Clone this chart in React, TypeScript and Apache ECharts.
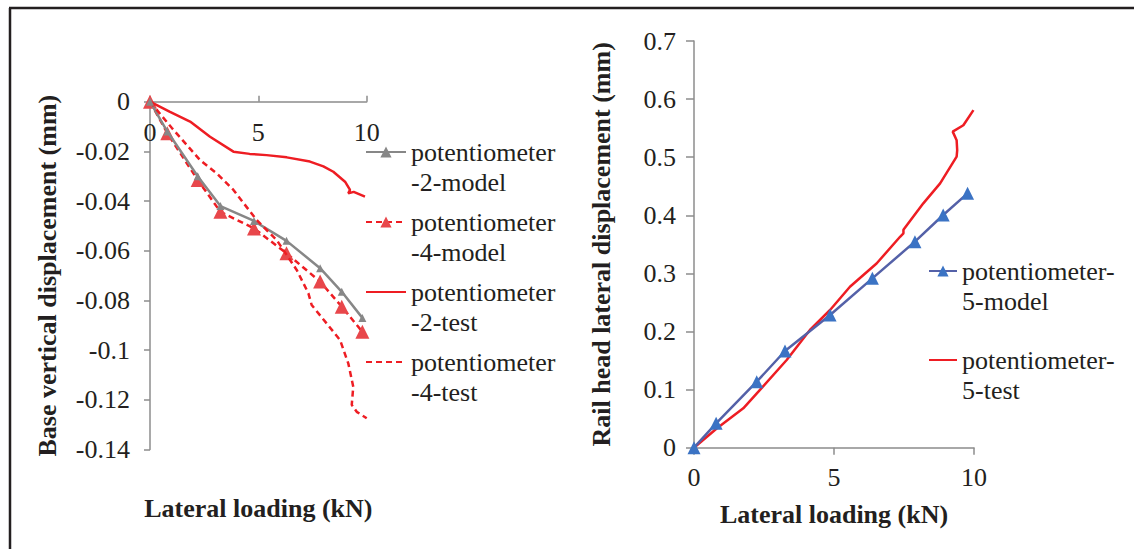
import React, { useEffect, useRef } from 'react';
import * as echarts from 'echarts';

// ---------- data ----------
// left chart: base vertical displacement (mm) vs lateral loading (kN)
const modelLoadLeft = [0, 0.8, 2.2, 3.25, 4.8, 6.3, 7.85, 8.85, 9.8];
const pot2Model = [0, -0.012, -0.03, -0.042, -0.048, -0.056, -0.067, -0.0765, -0.087];
const pot4Model = [0, -0.0127, -0.0315, -0.0443, -0.051, -0.061, -0.0724, -0.0825, -0.0926];

const pot2TestLoad = [0, 0.9, 1.85, 2.77, 3.85, 4.6, 5.38, 6.31, 7.38, 8.0, 8.46, 9.0, 9.23, 9.15, 9.4, 9.92];
const pot2TestDisp = [0, -0.004, -0.008, -0.0141, -0.0201, -0.021, -0.0215, -0.0224, -0.0241, -0.026, -0.0282, -0.0322, -0.0355, -0.0369, -0.0363, -0.0382];

const pot4TestLoad = [0, 1.0, 2.31, 3.1, 3.85, 4.92, 5.85, 6.77, 7.31, 7.46, 8.15, 8.77, 9.15, 9.38, 9.31, 9.54, 10.0];
const pot4TestDisp = [0, -0.0105, -0.0235, -0.029, -0.0355, -0.0476, -0.0557, -0.0677, -0.0771, -0.0818, -0.0892, -0.0959, -0.1053, -0.1147, -0.122, -0.1248, -0.1274];

// right chart: rail head lateral displacement (mm) vs lateral loading (kN)
const modelLoadRight = [0, 0.79, 2.24, 3.25, 4.86, 6.37, 7.89, 8.9, 9.77];
const pot5Model = [0, 0.042, 0.1136, 0.1664, 0.2284, 0.2915, 0.3546, 0.4005, 0.4378];

const pot5TestLoad = [0, 0.81, 1.76, 2.3, 3.31, 4.14, 4.86, 5.57, 6.52, 7.36, 7.48, 7.48, 8.19, 8.79, 9.38, 9.4, 9.38, 9.24, 9.62, 9.98];
const pot5TestDisp = [0, 0.033, 0.0678, 0.0964, 0.151, 0.2026, 0.237, 0.277, 0.317, 0.363, 0.369, 0.375, 0.4206, 0.455, 0.501, 0.512, 0.529, 0.544, 0.555, 0.581];

const seriesNamesLeft = [
  'potentiometer\n-2-model',
  'potentiometer\n-4-model',
  'potentiometer\n-2-test',
  'potentiometer\n-4-test',
];
const seriesNamesRight = ['potentiometer-\n5-model', 'potentiometer-\n5-test'];

const xTitle = 'Lateral loading (kN)';
const yTitleLeft = 'Base vertical displacement (mm)';
const yTitleRight = 'Rail head lateral displacement (mm)';

// ---------- styling ----------
const FONT = 'Liberation Serif';
const TXT = '#231f20';
const AXIS = '#8c8c8c';
const RED = '#ee1d23';
const RED_MARK = '#e8474b';
const GRAY = '#878787';
const BLUE_LINE = '#5461a8';
const BLUE_MARK = '#3b73c4';

const zip = (xs: number[], ys: number[]) => xs.map((x, i) => [x, ys[i]]);

const fmt = (v: number) => (Math.abs(v) < 1e-9 ? '0' : String(Number(v.toFixed(2))));

const lineOnlyIcon = { itemStyle: { color: 'rgba(0,0,0,0)', borderWidth: 0, opacity: 0 } };

export default function App() {
  const ref = useRef<HTMLDivElement>(null);

  useEffect(() => {
    if (!ref.current) return;
    const chart = echarts.init(ref.current, undefined, { renderer: 'svg' });

    const labelStyle = { fontSize: 26, color: TXT, fontFamily: FONT };
    const nameStyle = { fontSize: 26, fontWeight: 'bold' as const, color: TXT, fontFamily: FONT };
    const axisLineStyle = { color: AXIS, width: 1.5 };

    const option: any = {
      animation: false,
      backgroundColor: '#ffffff',
      textStyle: { fontFamily: FONT },
      grid: [
        { left: 150, top: 101.7, width: 216.7, height: 347.9, containLabel: false, outerBoundsMode: 'none' },
        { left: 694, top: 41, width: 280, height: 406.7, containLabel: false, outerBoundsMode: 'none' },
      ],
      xAxis: [
        {
          // axis line at y = 0 (top of the left plot), labels below it
          type: 'value',
          gridIndex: 0,
          min: 0,
          max: 10,
          interval: 5,
          position: 'top',
          axisLine: { onZero: false, lineStyle: axisLineStyle },
          axisTick: { inside: false, length: 6, lineStyle: axisLineStyle },
          axisLabel: { ...labelStyle, margin: -44 },
          splitLine: { show: false },
        },
        {
          type: 'value',
          gridIndex: 1,
          min: 0,
          max: 10,
          interval: 5,
          position: 'bottom',
          axisLine: { onZero: false, lineStyle: axisLineStyle },
          axisTick: { inside: false, length: 7, lineStyle: axisLineStyle },
          axisLabel: { ...labelStyle, margin: 17 },
          splitLine: { show: false },
          name: xTitle,
          nameLocation: 'middle',
          nameGap: 54,
          nameTextStyle: nameStyle,
        },
        {
          // carries only the left x-axis title under the left plot
          type: 'value',
          gridIndex: 0,
          min: 0,
          max: 10,
          position: 'bottom',
          axisLine: { show: false, onZero: false },
          axisTick: { show: false },
          axisLabel: { show: false },
          splitLine: { show: false },
          name: xTitle,
          nameLocation: 'middle',
          nameGap: 46,
          nameTextStyle: nameStyle,
        },
      ],
      yAxis: [
        {
          type: 'value',
          gridIndex: 0,
          min: -0.14,
          max: 0,
          interval: 0.02,
          axisLine: { show: true, onZero: false, lineStyle: axisLineStyle },
          axisTick: { show: true, length: 6, lineStyle: axisLineStyle },
          axisLabel: { ...labelStyle, margin: 20, formatter: fmt },
          splitLine: { show: false },
          name: yTitleLeft,
          nameLocation: 'middle',
          nameRotate: 90,
          nameGap: 90,
          nameTextStyle: nameStyle,
        },
        {
          type: 'value',
          gridIndex: 1,
          min: 0,
          max: 0.7,
          interval: 0.1,
          axisLine: { show: true, onZero: false, lineStyle: axisLineStyle },
          axisTick: { show: true, length: 8, lineStyle: axisLineStyle },
          axisLabel: { ...labelStyle, margin: 18, formatter: fmt },
          splitLine: { show: false },
          name: yTitleRight,
          nameLocation: 'middle',
          nameRotate: 90,
          nameGap: 80,
          nameTextStyle: nameStyle,
        },
      ],
      legend: [
        {
          data: [
            { name: seriesNamesLeft[0] },
            { name: seriesNamesLeft[1] },
            { name: seriesNamesLeft[2], ...lineOnlyIcon },
            { name: seriesNamesLeft[3], ...lineOnlyIcon },
          ],
          orient: 'vertical',
          left: 365,
          top: 107,
          padding: 0,
          itemWidth: 40,
          itemHeight: 14,
          itemGap: -20,
          formatter: (n: string) => '\n' + n,
          textStyle: { ...labelStyle, lineHeight: 30 },
        },
        {
          data: [
            { name: seriesNamesRight[0] },
            { name: seriesNamesRight[1], ...lineOnlyIcon },
          ],
          orient: 'vertical',
          left: 928,
          top: 226,
          padding: 0,
          itemWidth: 28,
          itemHeight: 14,
          itemGap: -1,
          formatter: (n: string) => '\n' + n,
          textStyle: { ...labelStyle, lineHeight: 30 },
        },
      ],
      series: [
        {
          name: seriesNamesLeft[0],
          type: 'line',
          xAxisIndex: 0,
          yAxisIndex: 0,
          data: zip(modelLoadLeft, pot2Model),
          symbol: 'triangle',
          symbolSize: 8,
          itemStyle: { color: GRAY },
          lineStyle: { color: GRAY, width: 2.5 },
          z: 3,
        },
        {
          name: seriesNamesLeft[1],
          type: 'line',
          xAxisIndex: 0,
          yAxisIndex: 0,
          data: zip(modelLoadLeft, pot4Model),
          symbol: 'triangle',
          symbolSize: 14,
          itemStyle: { color: RED_MARK },
          lineStyle: { color: RED, width: 2.5, type: [6, 4] },
          z: 2,
        },
        {
          name: seriesNamesLeft[2],
          type: 'line',
          xAxisIndex: 0,
          yAxisIndex: 0,
          data: zip(pot2TestLoad, pot2TestDisp),
          symbol: 'none',
          itemStyle: { color: RED },
          lineStyle: { color: RED, width: 2.5 },
        },
        {
          name: seriesNamesLeft[3],
          type: 'line',
          xAxisIndex: 0,
          yAxisIndex: 0,
          data: zip(pot4TestLoad, pot4TestDisp),
          symbol: 'none',
          itemStyle: { color: RED },
          lineStyle: { color: RED, width: 2.5, type: [6, 4] },
        },
        {
          name: seriesNamesRight[0],
          type: 'line',
          xAxisIndex: 1,
          yAxisIndex: 1,
          data: zip(modelLoadRight, pot5Model),
          symbol: 'triangle',
          symbolSize: 13,
          itemStyle: { color: BLUE_MARK },
          lineStyle: { color: BLUE_LINE, width: 2.5 },
          z: 3,
        },
        {
          name: seriesNamesRight[1],
          type: 'line',
          xAxisIndex: 1,
          yAxisIndex: 1,
          data: zip(pot5TestLoad, pot5TestDisp),
          symbol: 'none',
          itemStyle: { color: RED },
          lineStyle: { color: RED, width: 2.5 },
          z: 2,
        },
      ],
      graphic: [
        {
          type: 'line',
          shape: { x1: 9, y1: 8, x2: 1134, y2: 8 },
          style: { stroke: TXT, lineWidth: 2.5 },
          silent: true,
        },
        {
          type: 'line',
          shape: { x1: 10, y1: 8, x2: 10, y2: 549 },
          style: { stroke: TXT, lineWidth: 2.5 },
          silent: true,
        },
      ],
    };

    chart.setOption(option);
    return () => chart.dispose();
  }, []);

  return (
    <div
      ref={ref}
      style={{ position: 'fixed', left: 0, top: 0, width: 1134, height: 549, background: '#ffffff' }}
    />
  );
}
